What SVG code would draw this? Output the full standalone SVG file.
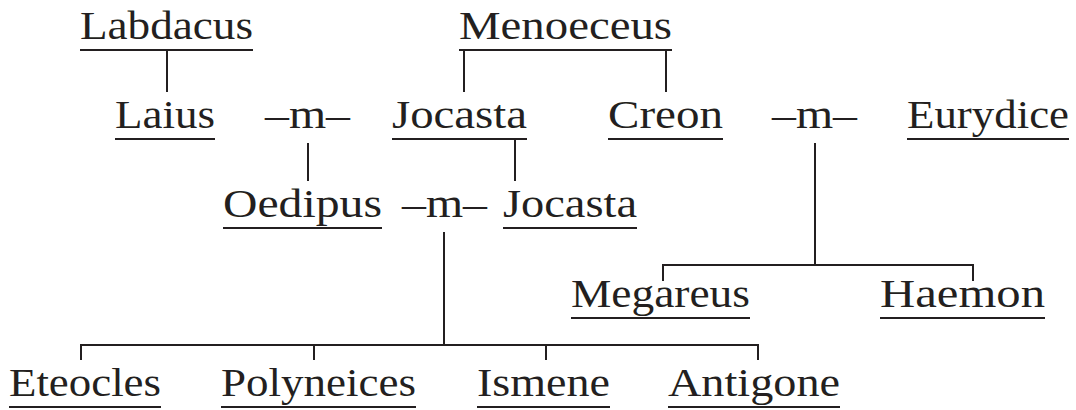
<svg xmlns="http://www.w3.org/2000/svg" width="1076" height="410" viewBox="0 0 1076 410">
  <style>
    .name { font-family: "Liberation Serif", "Times New Roman", serif; font-size: 41px; fill: #231f20; }
    .ul { stroke: #231f20; stroke-width: 2; }
    .link { stroke: #231f20; stroke-width: 2; fill: none; }
  </style>
  <rect width="1076" height="410" fill="#ffffff"/>

  <!-- connectors: descent lines and sibling brackets -->
  <g id="connectors">
    <line class="link" x1="167" y1="50" x2="167" y2="92"/>
    <line class="link" x1="464" y1="50" x2="464" y2="92"/>
    <line class="link" x1="666" y1="50" x2="666" y2="92"/>
    <line class="link" x1="308" y1="143" x2="308" y2="181"/>
    <line class="link" x1="515" y1="139" x2="515" y2="181"/>
    <line class="link" x1="815" y1="143" x2="815" y2="265"/>
    <polyline class="link" points="663,281 663,265 973,265 973,281"/>
    <line class="link" x1="444" y1="232" x2="444" y2="345"/>
    <polyline class="link" points="81,360 81,345 758,345 758,360"/>
    <line class="link" x1="314" y1="345" x2="314" y2="360"/>
    <line class="link" x1="546" y1="345" x2="546" y2="360"/>
  </g>

  <!-- generation 1 -->
  <g id="labdacus">
    <text class="name" x="80" y="39" textLength="173" lengthAdjust="spacingAndGlyphs">Labdacus</text>
    <line class="ul" x1="80" y1="50" x2="253" y2="50"/>
  </g>
  <g id="menoeceus">
    <text class="name" x="459" y="39" textLength="213" lengthAdjust="spacingAndGlyphs">Menoeceus</text>
    <line class="ul" x1="459" y1="50" x2="672" y2="50"/>
  </g>

  <!-- generation 2 -->
  <g id="laius">
    <text class="name" x="115" y="128" textLength="100" lengthAdjust="spacingAndGlyphs">Laius</text>
    <line class="ul" x1="115" y1="139" x2="215" y2="139"/>
  </g>
  <g id="marriage-laius-jocasta">
    <text class="name" x="265" y="128" textLength="85" lengthAdjust="spacingAndGlyphs">–m–</text>
  </g>
  <g id="jocasta-1">
    <text class="name" x="392" y="128" textLength="135" lengthAdjust="spacingAndGlyphs">Jocasta</text>
    <line class="ul" x1="392" y1="139" x2="527" y2="139"/>
  </g>
  <g id="creon">
    <text class="name" x="608" y="128" textLength="115" lengthAdjust="spacingAndGlyphs">Creon</text>
    <line class="ul" x1="608" y1="139" x2="723" y2="139"/>
  </g>
  <g id="marriage-creon-eurydice">
    <text class="name" x="772" y="128" textLength="85" lengthAdjust="spacingAndGlyphs">–m–</text>
  </g>
  <g id="eurydice">
    <text class="name" x="907" y="128" textLength="162" lengthAdjust="spacingAndGlyphs">Eurydice</text>
    <line class="ul" x1="907" y1="139" x2="1069" y2="139"/>
  </g>

  <!-- generation 3 -->
  <g id="oedipus">
    <text class="name" x="223" y="217" textLength="159" lengthAdjust="spacingAndGlyphs">Oedipus</text>
    <line class="ul" x1="223" y1="228" x2="382" y2="228"/>
  </g>
  <g id="marriage-oedipus-jocasta">
    <text class="name" x="402" y="217" textLength="85" lengthAdjust="spacingAndGlyphs">–m–</text>
  </g>
  <g id="jocasta-2">
    <text class="name" x="503" y="217" textLength="134" lengthAdjust="spacingAndGlyphs">Jocasta</text>
    <line class="ul" x1="503" y1="228" x2="637" y2="228"/>
  </g>
  <g id="megareus">
    <text class="name" x="571" y="307" textLength="179" lengthAdjust="spacingAndGlyphs">Megareus</text>
    <line class="ul" x1="571" y1="318" x2="750" y2="318"/>
  </g>
  <g id="haemon">
    <text class="name" x="880" y="307" textLength="165" lengthAdjust="spacingAndGlyphs">Haemon</text>
    <line class="ul" x1="880" y1="318" x2="1045" y2="318"/>
  </g>

  <!-- generation 4 -->
  <g id="eteocles">
    <text class="name" x="9" y="396" textLength="152" lengthAdjust="spacingAndGlyphs">Eteocles</text>
    <line class="ul" x1="9" y1="407" x2="161" y2="407"/>
  </g>
  <g id="polyneices">
    <text class="name" x="221" y="396" textLength="195" lengthAdjust="spacingAndGlyphs">Polyneices</text>
    <line class="ul" x1="221" y1="407" x2="416" y2="407"/>
  </g>
  <g id="ismene">
    <text class="name" x="477" y="396" textLength="133" lengthAdjust="spacingAndGlyphs">Ismene</text>
    <line class="ul" x1="477" y1="407" x2="610" y2="407"/>
  </g>
  <g id="antigone">
    <text class="name" x="668" y="396" textLength="172" lengthAdjust="spacingAndGlyphs">Antigone</text>
    <line class="ul" x1="668" y1="407" x2="840" y2="407"/>
  </g>
</svg>
